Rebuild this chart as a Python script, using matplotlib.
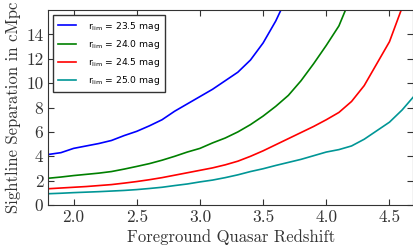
import numpy as np
import matplotlib
matplotlib.use('Agg')
import matplotlib.pyplot as plt

plt.rcParams['mathtext.fontset'] = 'dejavusans'
plt.rcParams['axes.formatter.use_mathtext'] = False

z_a = [1.8, 1.9, 2.0, 2.1, 2.2, 2.3, 2.4, 2.5, 2.6, 2.7, 2.8, 2.9, 3.0, 3.1, 3.2,
       3.3, 3.4, 3.5, 3.6, 3.65]
sep_a = [4.15, 4.3, 4.65, 4.85, 5.05, 5.3, 5.7, 6.05, 6.5, 7.0, 7.7, 8.3, 8.9, 9.5,
         10.2, 10.9, 11.9, 13.3, 15.1, 16.2]

z_b = [1.8, 1.9, 2.0, 2.1, 2.2, 2.3, 2.4, 2.5, 2.6, 2.7, 2.8, 2.9, 3.0, 3.1, 3.2,
       3.3, 3.4, 3.5, 3.6, 3.7, 3.8, 3.9, 4.0, 4.1, 4.16]
sep_b = [2.2, 2.3, 2.42, 2.52, 2.62, 2.75, 2.95, 3.17, 3.4, 3.68, 4.0, 4.35, 4.65,
         5.1, 5.5, 6.0, 6.6, 7.3, 8.1, 9.0, 10.2, 11.6, 13.1, 14.7, 16.2]

z_c = [1.8, 1.9, 2.0, 2.1, 2.2, 2.3, 2.4, 2.5, 2.6, 2.7, 2.8, 2.9, 3.0, 3.1, 3.2,
       3.3, 3.4, 3.5, 3.6, 3.7, 3.8, 3.9, 4.0, 4.1, 4.2, 4.3, 4.4, 4.5, 4.6]
sep_c = [1.34, 1.4, 1.46, 1.52, 1.6, 1.68, 1.8, 1.93, 2.08, 2.25, 2.45, 2.65, 2.85,
         3.05, 3.3, 3.6, 4.0, 4.45, 4.95, 5.45, 5.95, 6.45, 7.0, 7.6, 8.5, 9.8,
         11.6, 13.4, 16.2]

z_d = [1.8, 1.9, 2.0, 2.1, 2.2, 2.3, 2.4, 2.5, 2.6, 2.7, 2.8, 2.9, 3.0, 3.1, 3.2,
       3.3, 3.4, 3.5, 3.6, 3.7, 3.8, 3.9, 4.0, 4.1, 4.2, 4.3, 4.4, 4.5, 4.6, 4.7]
sep_d = [0.93, 0.97, 1.02, 1.06, 1.1, 1.15, 1.2, 1.27, 1.36, 1.46, 1.6, 1.73, 1.9,
         2.05, 2.25, 2.48, 2.75, 2.98, 3.25, 3.5, 3.75, 4.05, 4.35, 4.55, 4.85, 5.4,
         6.1, 6.8, 7.8, 9.0]

labels = [r'$\mathrm{r_{lim}}$ = 23.5 mag', r'$\mathrm{r_{lim}}$ = 24.0 mag',
          r'$\mathrm{r_{lim}}$ = 24.5 mag', r'$\mathrm{r_{lim}}$ = 25.0 mag']

fig = plt.figure(figsize=(4.14, 2.45), dpi=100, facecolor='w')
ax = fig.add_axes([0.1167, 0.163, 0.882, 0.796])

ax.plot(z_a, sep_a, color='b', lw=1.2, label=labels[0])
ax.plot(z_b, sep_b, color='g', lw=1.2, label=labels[1])
ax.plot(z_c, sep_c, color='r', lw=1.2, label=labels[2])
ax.plot(z_d, sep_d, color='#009696', lw=1.2, label=labels[3])

ax.set_xlim(1.8, 4.69)
ax.set_ylim(0, 16)
ax.set_xticks([2.0, 2.5, 3.0, 3.5, 4.0, 4.5])
ax.set_yticks([0, 2, 4, 6, 8, 10, 12, 14])
ax.tick_params(direction='in', top=True, right=True, length=4, labelsize=12.5, colors='#333333')
for lab in ax.get_xticklabels() + ax.get_yticklabels():
    lab.set_family('cmr10')
for s in ax.spines.values():
    s.set_color('#333333')
ax.set_xlabel('Foreground Quasar Redshift', family='cmr10', fontsize=12, color='#333333', labelpad=3)
ax.set_ylabel('Sightline Separation in cMpc', family='cmr10', fontsize=12, color='#333333', labelpad=4)

leg = ax.legend(loc='upper left', fontsize=6.6, fancybox=False, framealpha=1,
                handlelength=2.0, handletextpad=1.3, borderpad=0.55, labelspacing=0.55,
                borderaxespad=0.5)
leg.get_frame().set_edgecolor('#333333')

fig.savefig('out.png', dpi=100)
